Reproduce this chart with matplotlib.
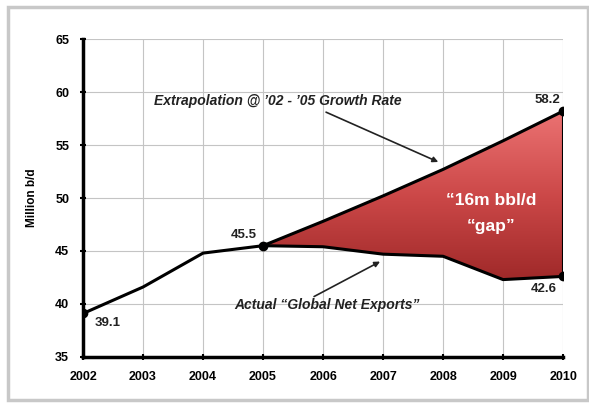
import numpy as np
import matplotlib.pyplot as plt
from matplotlib.patches import Polygon, Rectangle
from matplotlib.colors import LinearSegmentedColormap

years = [2002, 2003, 2004, 2005, 2006, 2007, 2008, 2009, 2010]
actual = [39.1, 41.6, 44.8, 45.5, 45.4, 44.7, 44.5, 42.3, 42.6]
trend_years = [2005, 2006, 2007, 2008, 2009, 2010]
trend = [45.5, 47.8, 50.2, 52.7, 55.4, 58.2]
yticks = [35, 40, 45, 50, 55, 60, 65]

plt.rcParams['font.family'] = ['Liberation Sans', 'DejaVu Sans']

fig = plt.figure(figsize=(5.89, 4.07), dpi=100)
fig.patches.append(Rectangle((0.014, 0.017), 0.985, 0.965, transform=fig.transFigure,
                             fill=False, edgecolor='#c8c8c8', linewidth=2.5))
ax = fig.add_axes([0.141, 0.123, 0.815, 0.781])

# gap between extrapolation and actual, filled with a red gradient
i0 = years.index(2005)
act_tail = actual[i0:]
yr_tail = years[i0:]
verts = list(zip(trend_years, trend)) + list(zip(yr_tail[::-1], act_tail[::-1]))
poly = Polygon(verts, closed=True, facecolor='none', edgecolor='none')
ax.add_patch(poly)
cmap = LinearSegmentedColormap.from_list('gap', ['#9e2828', '#cc4848', '#ec7474'])
grad = np.linspace(0, 1, 256).reshape(-1, 1)
img = ax.imshow(grad, cmap=cmap, origin='lower', aspect='auto',
                extent=(2005, 2010, 42.0, 58.5), zorder=2)
img.set_clip_path(poly)

ax.plot(years, actual, color='black', lw=2.2, zorder=3)
ax.plot(trend_years, trend, color='black', lw=2.2, zorder=3)
ax.plot([2010, 2010], [actual[-1], trend[-1]], color='black', lw=1.5, zorder=3)
ax.plot([2002, 2005, 2010, 2010], [actual[0], actual[i0], trend[-1], actual[-1]],
        'o', color='black', ms=6, zorder=4)

lab = dict(fontsize=9.5, fontweight='bold', color='#222222')
ax.text(2002.2, actual[0] - 0.3, f'{actual[0]}', ha='left', va='top', **lab)
ax.text(2004.9, actual[i0] + 0.4, f'{actual[i0]}', ha='right', va='bottom', **lab)
ax.text(2009.95, trend[-1] + 0.5, f'{trend[-1]}', ha='right', va='bottom', **lab)
ax.text(2009.9, actual[-1] - 0.6, '42.6', ha='right', va='top', **lab)

ax.text(2008.8, 48.5, '\u201c16m bbl/d\n\u201cgap\u201d', color='white', fontsize=12.5,
        fontweight='bold', ha='center', va='center', linespacing=1.9, zorder=5)

note = dict(fontsize=10, fontstyle='italic', fontweight='bold', color='#222222',
            ha='center', va='center')
arrow = dict(arrowstyle='-|>', color='#222222', lw=1.2, shrinkA=0, shrinkB=0,
             mutation_scale=8)
ax.text(2005.25, 59.2, 'Extrapolation @ \u201902 - \u201905 Growth Rate', **note)
ax.annotate('', xy=(2007.92, 53.4), xytext=(2006.05, 58.1), arrowprops=arrow)
ax.text(2006.07, 39.9, 'Actual \u201cGlobal Net Exports\u201d', **note)
ax.annotate('', xy=(2006.95, 44.0), xytext=(2005.85, 40.7), arrowprops=arrow)

ax.set_xlim(2002, 2010)
ax.set_ylim(35, 65)
ax.set_xticks(years)
ax.set_yticks(yticks)
ax.tick_params(labelsize=9, width=1.5, length=4, direction='inout')
for t in ax.get_xticklabels() + ax.get_yticklabels():
    t.set_fontweight('bold')
ax.tick_params(axis='x', pad=8)
ax.tick_params(axis='y', pad=8)
ax.grid(True, color='#c4c4c4', lw=0.8)
ax.set_axisbelow(True)
for s in ['top', 'right']:
    ax.spines[s].set_visible(False)
for s in ['left', 'bottom']:
    ax.spines[s].set_linewidth(2.5)
ax.set_ylabel('Million b/d', fontsize=8.5, fontweight='bold', labelpad=12)

fig.savefig('out.png', dpi=100)
